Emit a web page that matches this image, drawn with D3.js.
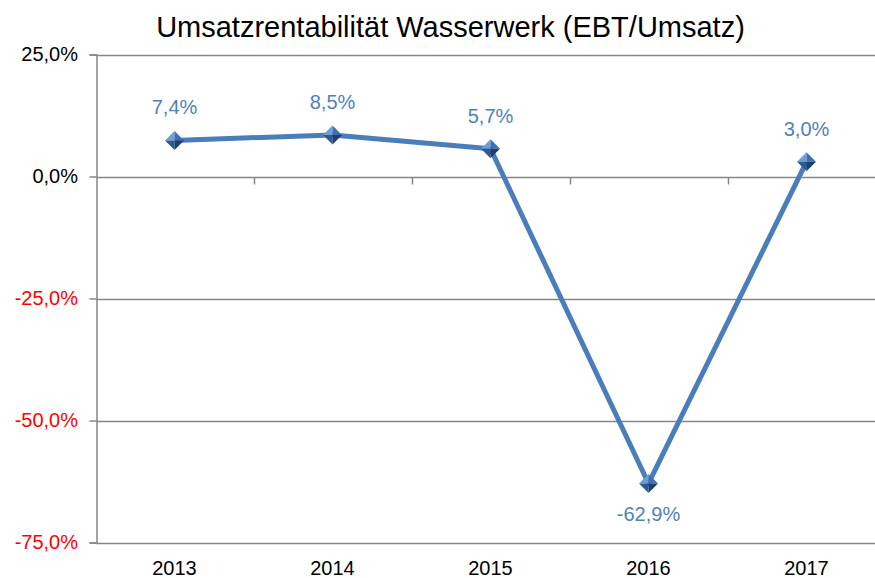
<!DOCTYPE html>
<html><head><meta charset="utf-8">
<script src="https://cdn.jsdelivr.net/npm/d3@7"></script>
<style>body{margin:0;background:#fff}svg{display:block;font-family:"Liberation Sans",Arial,sans-serif}</style>
</head><body><svg id="c" width="875" height="578"></svg>
<script>
const title = "Umsatzrentabilität Wasserwerk (EBT/Umsatz)";
const categories = ["2013","2014","2015","2016","2017"];
const values = [7.4, 8.5, 5.7, -62.9, 3.0];
const yTicks = [25, 0, -25, -50, -75];

(function(){
const svg = d3.select("#c");
const fmt = v => d3.format(".1f")(v).replace(".", ",").replace("\u2212", "-") + "%";
const pLeft = 96.5, pRight = 886.5, pTop = 54.5, pBottom = 542.5;
const x = d3.scaleBand().domain(categories).range([pLeft, pRight]);
const y = d3.scaleLinear().domain([-75, 25]).range([pBottom, pTop]);

svg.append("text").attr("x", 450.5).attr("y", 37).attr("text-anchor", "middle")
  .attr("font-size", 29).attr("fill", "#000").text(title);

// gridlines
svg.append("g").selectAll("line").data(yTicks).join("line")
  .attr("x1", pLeft).attr("x2", 875).attr("y1", d => Math.round(y(d)) + 0.5).attr("y2", d => Math.round(y(d)) + 0.5)
  .attr("stroke", "#868686").attr("stroke-width", 1.5);

// y axis
const ya = d3.axisLeft(y).tickValues(yTicks).tickSize(7).tickPadding(11.5).tickFormat(fmt);
const gy = svg.append("g").attr("transform", `translate(${pLeft},0)`).call(ya);
gy.select(".domain").attr("stroke", "#868686").attr("stroke-width", 1.5);
gy.selectAll(".tick line").attr("stroke", "#868686").attr("stroke-width", 1.5);
gy.selectAll(".tick text").attr("font-size", 20).attr("font-family", "Liberation Sans, Arial, sans-serif")
  .attr("fill", d => d < 0 ? "#FF0000" : "#000");

// x axis ticks at zero
const y0 = Math.round(y(0)) + 0.5;
svg.append("g").selectAll("line").data(categories.slice(1)).join("line")
  .attr("x1", d => x(d)).attr("x2", d => x(d)).attr("y1", y0).attr("y2", y0 + 7)
  .attr("stroke", "#868686").attr("stroke-width", 1.5);

// category labels at bottom
svg.append("g").selectAll("text").data(categories).join("text")
  .attr("x", d => x(d) + x.bandwidth() / 2 - 1).attr("y", 575).attr("text-anchor", "middle")
  .attr("font-size", 20).attr("fill", "#000").text(d => d);

// line
const pts = categories.map((c, i) => [x(c) + x.bandwidth() / 2 - 1, y(values[i])]);
svg.append("path").attr("d", d3.line()(pts)).attr("fill", "none")
  .attr("stroke", "#4A7EBB").attr("stroke-width", 5).attr("stroke-linejoin", "round");

// markers (faceted diamonds)
const s = 9.5;
const mg = svg.append("g").selectAll("g").data(pts).join("g")
  .attr("transform", d => `translate(${d[0]},${d[1]})`);
const facets = [
  {p: [[0,-s],[-s,0],[0,0]], c: "#6F9DD6"},
  {p: [[0,-s],[s,0],[0,0]], c: "#3F6FAE"},
  {p: [[-s,0],[0,s],[0,0]], c: "#2E5A92"},
  {p: [[s,0],[0,s],[0,0]], c: "#1E3F6C"}
];
facets.forEach(f => mg.append("path").attr("d", "M" + f.p.map(q => q.join(",")).join("L") + "Z").attr("fill", f.c));

// data labels
svg.append("g").selectAll("text").data(pts).join("text")
  .attr("x", d => d[0]).attr("y", (d, i) => values[i] < 0 ? d[1] + 37.5 : d[1] - 26)
  .attr("text-anchor", "middle").attr("font-size", 20).attr("fill", "#4F81BD")
  .text((d, i) => fmt(values[i]));
})();
</script></body></html>
